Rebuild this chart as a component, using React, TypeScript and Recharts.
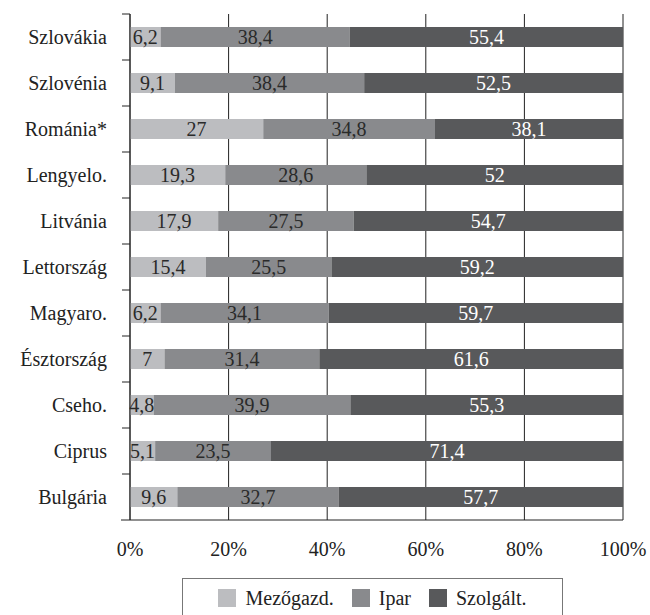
import React from "react";
import {
  BarChart, Bar, XAxis, YAxis, CartesianGrid, Legend, LabelList,
} from "recharts";

const countries = [
  "Szlovákia", "Szlovénia", "Románia*", "Lengyelo.", "Litvánia", "Lettország",
  "Magyaro.", "Észtország", "Cseho.", "Ciprus", "Bulgária",
];
const mezogazd = [6.2, 9.1, 27, 19.3, 17.9, 15.4, 6.2, 7, 4.8, 5.1, 9.6];
const ipar = [38.4, 38.4, 34.8, 28.6, 27.5, 25.5, 34.1, 31.4, 39.9, 23.5, 32.7];
const szolgalt = [55.4, 52.5, 38.1, 52, 54.7, 59.2, 59.7, 61.6, 55.3, 71.4, 57.7];
const xTicks = [0, 0.2, 0.4, 0.6, 0.8, 1];

const series = [
  { key: "mezogazd", name: "Mezőgazd.", color: "#bcbdc0", text: "#2a2a2a" },
  { key: "ipar", name: "Ipar", color: "#898a8d", text: "#2a2a2a" },
  { key: "szolgalt", name: "Szolgált.", color: "#58595b", text: "#ffffff" },
];

const data = countries.map((name, i) => ({
  name,
  mezogazd: mezogazd[i],
  ipar: ipar[i],
  szolgalt: szolgalt[i],
}));

const FONT = "'Liberation Serif', serif";
const FS = 20;
const W = 650;
const H = 615;
const TOP = 14;
const PLOT_BOTTOM = 520;
const BAND = (PLOT_BOTTOM - TOP) / countries.length;

const comma = (v: any) => String(v).replace(".", ",");

function CountryTick(props: any) {
  const { x, y, payload, index } = props;
  return (
    <g>
      <line x1={x - 8} x2={x} y1={y - BAND / 2} y2={y - BAND / 2} stroke="#222" />
      {index === countries.length - 1 && (
        <line x1={x - 9} x2={x} y1={y + BAND / 2} y2={y + BAND / 2} stroke="#222" />
      )}
      <text x={x - 23} y={y} dy="0.35em" textAnchor="end" fill="#222"
        fontSize={FS} fontFamily={FONT}>
        {payload.value}
      </text>
    </g>
  );
}

function LegendBox() {
  return (
    <div style={{
      boxSizing: "border-box", width: 381, height: 40, border: "1px solid #777",
      display: "flex", alignItems: "center", justifyContent: "center",
      fontFamily: FONT, fontSize: FS, color: "#222",
    }}>
      {series.map((s, i) => (
        <div key={s.key} style={{ display: "flex", alignItems: "center", marginRight: i < 2 ? 18 : 0 }}>
          <span style={{ width: 18, height: 18, background: s.color, marginRight: 9, display: "inline-block" }} />
          <span>{s.name}</span>
        </div>
      ))}
    </div>
  );
}

export default function App() {
  return (
    <div style={{ position: "absolute", left: 0, top: 0, background: "#fff" }}>
      <BarChart
        width={W}
        height={H}
        data={data}
        layout="vertical"
        stackOffset="expand"
        barSize={20}
        margin={{ top: TOP, right: 27, left: 0, bottom: 15 }}
      >
        <CartesianGrid horizontal={false} stroke="#222" />
        <XAxis
          type="number"
          domain={[0, 1]}
          ticks={xTicks}
          tickFormatter={(v) => `${Math.round(v * 100)}%`}
          tickLine={false}
          tickMargin={16}
          axisLine={{ stroke: "#222" }}
          tick={{ fill: "#222", fontSize: FS, fontFamily: FONT }}
          height={40}
        />
        <YAxis
          type="category"
          dataKey="name"
          width={130}
          interval={0}
          tickLine={false}
          tickSize={0}
          tickMargin={0}
          axisLine={{ stroke: "#222" }}
          tick={<CountryTick />}
        />
        <Legend
          verticalAlign="bottom"
          content={<LegendBox />}
          wrapperStyle={{ top: 578, left: 182, bottom: "auto", width: 381, height: 40 }}
        />
        {series.map((s) => (
          <Bar key={s.key} dataKey={s.key} name={s.name} stackId="a" fill={s.color}
            isAnimationActive={false}>
            <LabelList dataKey={s.key} position="center" formatter={comma}
              fill={s.text} fontSize={FS} fontFamily={FONT} />
          </Bar>
        ))}
      </BarChart>
    </div>
  );
}
